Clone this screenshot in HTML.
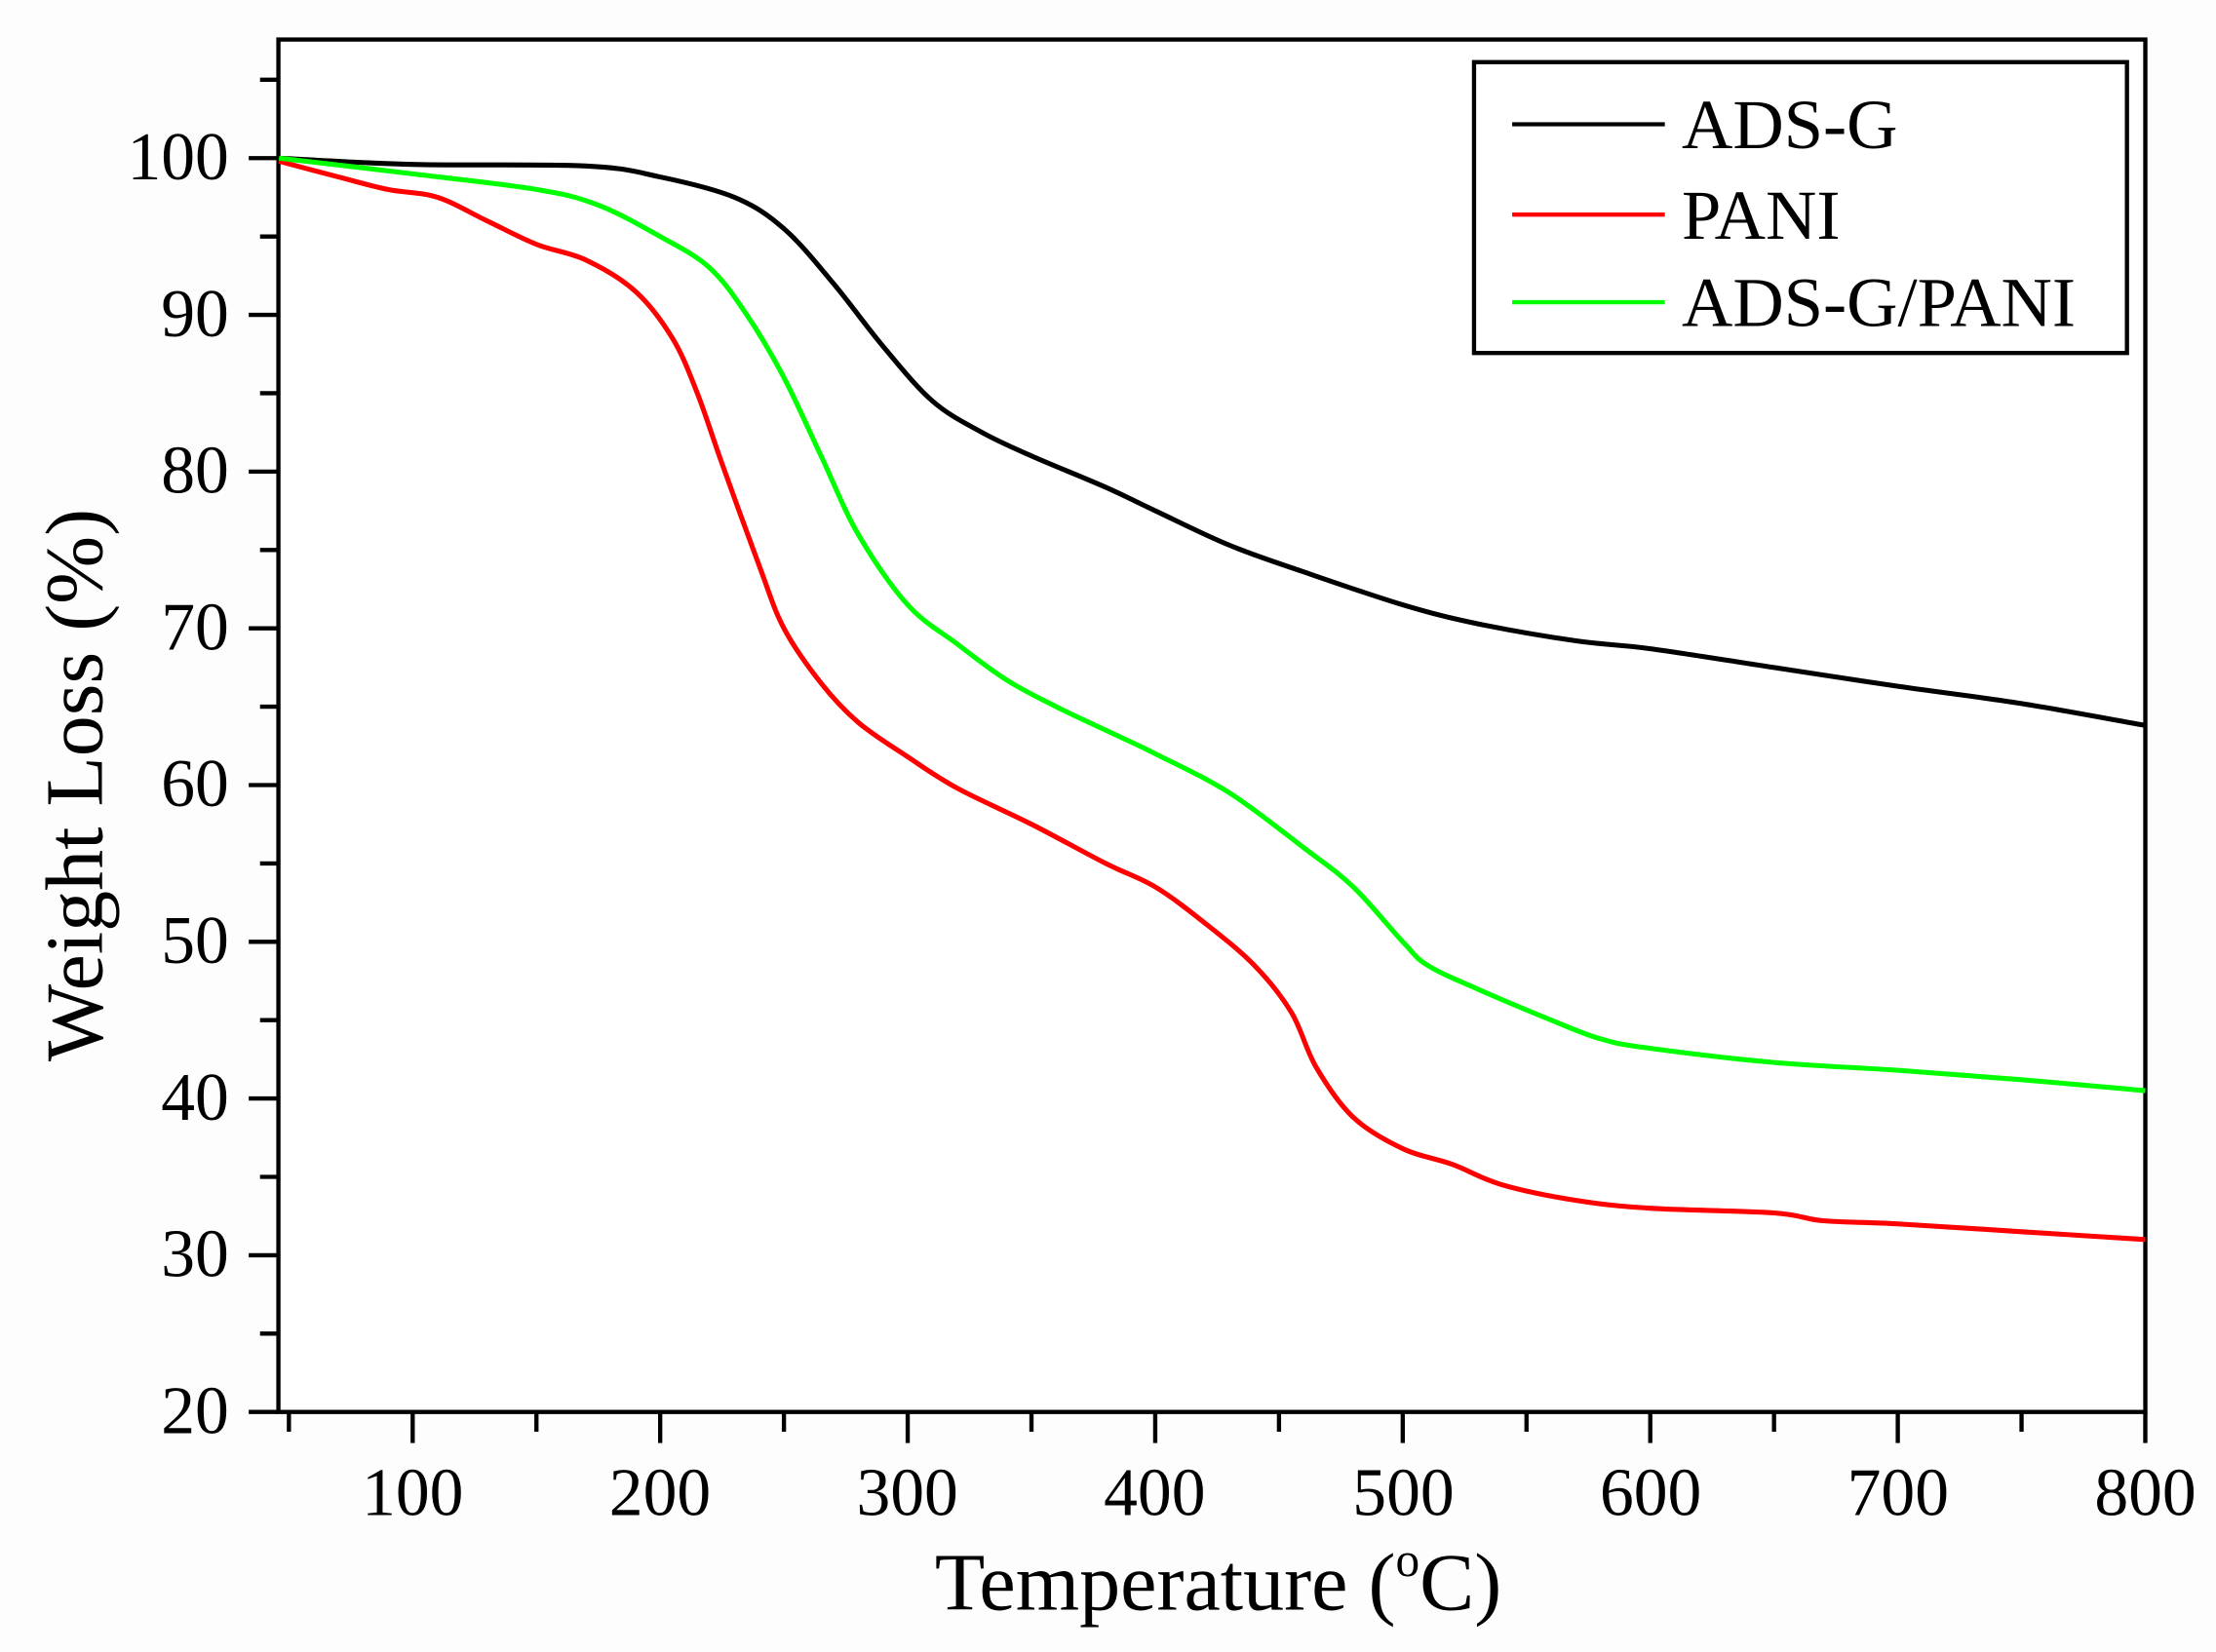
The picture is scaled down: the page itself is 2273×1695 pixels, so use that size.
<!DOCTYPE html>
<html><head><meta charset="utf-8"><style>
html,body{margin:0;padding:0;background:#fdfdfd;}
svg{display:block;}
text{font-family:"Liberation Serif",serif;fill:#000;}
</style></head><body>
<svg id="s" width="2273" height="1695" viewBox="0 0 1568 1170" preserveAspectRatio="none" xmlns="http://www.w3.org/2000/svg">
<rect x="0" y="0" width="1568" height="1170" fill="#fdfdfd"/>
<rect x="197" y="28" width="1321" height="972" fill="#fff" stroke="#000" stroke-width="3"/>
<g id="ticks" stroke="#000" stroke-width="3"></g>
<g font-size="48" text-anchor="end">
<text x="162" y="127">100</text><text x="162" y="238">90</text><text x="162" y="349">80</text><text x="162" y="460">70</text><text x="162" y="571">60</text><text x="162" y="682">50</text><text x="162" y="793">40</text><text x="162" y="904">30</text><text x="162" y="1015">20</text>
</g>
<g font-size="48" text-anchor="middle">
<text x="292" y="1073">100</text><text x="467" y="1073">200</text><text x="642" y="1073">300</text><text x="817" y="1073">400</text><text x="993" y="1073">500</text><text x="1168" y="1073">600</text><text x="1343" y="1073">700</text><text x="1518" y="1073">800</text>
</g>
<text x="862" y="1140" font-size="58" text-anchor="middle">Temperature (<tspan font-size="34" dy="-24">o</tspan><tspan dy="24">C)</tspan></text>
<text transform="translate(72,556) rotate(-90)" font-size="58" text-anchor="middle">Weight Loss (%)</text>
<g id="curves" fill="none" stroke-width="3.5" stroke-linejoin="round"></g>
<rect x="1043" y="44" width="462" height="206" fill="#fff" stroke="#000" stroke-width="3"/>
<line x1="1070" y1="88" x2="1178" y2="88" stroke="#000" stroke-width="3"/>
<line x1="1070" y1="152" x2="1178" y2="152" stroke="#f00" stroke-width="3"/>
<line x1="1070" y1="214" x2="1178" y2="214" stroke="#0f0" stroke-width="3"/>
<g font-size="50"><text x="1190" y="105">ADS-G</text><text x="1190" y="169">PANI</text><text x="1190" y="231">ADS-G/PANI</text></g>
</svg>
<script>
var X=t=>292+(t-100)*1.7514, Y=v=>1000-(v-20)*11.1;
var tk='';
for(var v=20;v<=105;v+=5){var y=Y(v);tk+='<line x1="'+(v%10==0?176:184)+'" y1="'+y+'" x2="197" y2="'+y+'"/>';}
for(var t=50;t<=800;t+=50){var x=X(t);tk+='<line x1="'+x+'" y1="1000" x2="'+x+'" y2="'+(t%100==0?1022:1014)+'"/>';}
document.getElementById('ticks').innerHTML=tk;
var D={
'#000':[[46,100],[100,99.6],[170,99.5],[200,98.8],[230,97.5],[250,95.5],[270,92],[290,88],[310,84.5],[330,82.5],[350,81],[380,79],[400,77.5],[430,75.3],[460,73.6],[500,71.5],[530,70.3],[570,69.2],[600,68.7],[650,67.5],[700,66.3],[750,65.2],[800,63.8]],
'#f00':[[46,99.8],[70,98.8],[90,98],[110,97.5],[130,96],[150,94.5],[170,93.5],[190,91.5],[205,88.5],[215,85],[225,80.5],[240,74],[250,70],[265,66.5],[280,64],[300,61.8],[320,59.8],[350,57.5],[380,55],[400,53.5],[420,51.2],[440,48.5],[455,45.5],[465,42],[480,38.8],[500,36.8],[520,35.8],[540,34.5],[570,33.5],[600,33],[650,32.7],[670,32.2],[700,32],[750,31.5],[800,31]],
'#0f0':[[46,100],[100,99],[150,98],[175,97],[200,95],[220,93],[235,90],[250,86],[265,81],[280,76],[300,71.5],[320,69],[340,66.7],[360,65],[380,63.5],[400,62],[430,59.5],[460,56],[480,53.5],[500,50],[510,48.5],[530,47],[560,45],[580,43.8],[600,43.2],[650,42.3],[700,41.8],[750,41.2],[800,40.5]]};
var h='';
for(var c in D){var p=D[c].map(q=>[X(q[0]),Y(q[1])]);var s='M'+p[0][0]+' '+p[0][1];
for(var i=0;i<p.length-1;i++){var p0=p[Math.max(0,i-1)],p1=p[i],p2=p[i+1],p3=p[Math.min(p.length-1,i+2)];
var c1x=p1[0]+(p2[0]-p0[0])/6,c1y=p1[1]+(p2[1]-p0[1])/6,c2x=p2[0]-(p3[0]-p1[0])/6,c2y=p2[1]-(p3[1]-p1[1])/6;
s+=' C'+c1x+' '+c1y+' '+c2x+' '+c2y+' '+p2[0]+' '+p2[1];}
h+='<path d="'+s+'" stroke="'+c+'"/>';}
document.getElementById('curves').innerHTML=h;
</script>
</body></html>
